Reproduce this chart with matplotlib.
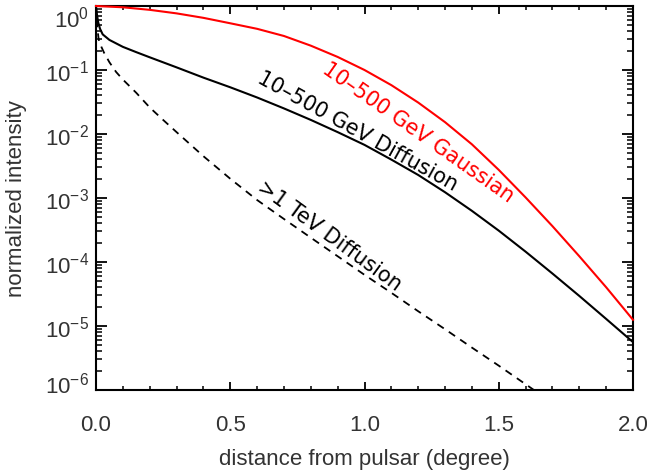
import numpy as np
import matplotlib
matplotlib.use("Agg")
import matplotlib.pyplot as plt
from matplotlib.ticker import LogLocator, MultipleLocator, NullFormatter
from matplotlib.transforms import ScaledTranslation

plt.rcParams["font.family"] = ["Liberation Sans", "DejaVu Sans"]
plt.rcParams["mathtext.fontset"] = "custom"
plt.rcParams["mathtext.rm"] = "Liberation Sans"
plt.rcParams["mathtext.it"] = "Liberation Sans:italic"

# 10-500 GeV, Gaussian template
gauss_x = [0.0, 0.1, 0.2, 0.3, 0.4, 0.5, 0.6, 0.7, 0.8, 0.9, 1.0,
           1.1, 1.2, 1.3, 1.4, 1.5, 1.6, 1.7, 1.8, 1.9, 2.0]
gauss_y = [1.0, 0.955, 0.871, 0.767, 0.653, 0.537, 0.44, 0.34, 0.24, 0.16, 0.100,
           0.058, 0.031, 0.0153, 6.9e-3, 2.75e-3, 1.02e-3, 3.63e-4, 1.23e-4, 4.03e-5, 1.25e-5]

# 10-500 GeV, diffusion template
diff_x = [0.0, 0.003, 0.008, 0.015, 0.025, 0.05, 0.1, 0.15, 0.2, 0.3, 0.4,
          0.5, 0.6, 0.7, 0.8, 0.9, 1.0, 1.1, 1.2, 1.3, 1.4,
          1.5, 1.6, 1.7, 1.8, 1.9, 2.0]
diff_y = [1.0, 0.76, 0.56, 0.44, 0.36, 0.295, 0.23, 0.19, 0.158, 0.110, 0.076,
          0.0537, 0.0372, 0.0251, 0.0166, 0.0107, 6.76e-3, 3.98e-3, 2.29e-3, 1.23e-3, 6.3e-4,
          3.09e-4, 1.45e-4, 6.6e-5, 2.95e-5, 1.29e-5, 5.6e-6]

# >1 TeV, diffusion template
tev_x = [0.0, 0.005, 0.01, 0.02, 0.03, 0.05, 0.075, 0.1, 0.15, 0.2, 0.25, 0.3,
         0.4, 0.5, 0.6, 0.7, 0.8, 0.9, 1.0, 1.1, 1.2, 1.3, 1.4, 1.5, 1.6, 1.7]
tev_y = [1.0, 0.45, 0.30, 0.23, 0.186, 0.132, 0.093, 0.071, 0.044, 0.026, 0.0166, 0.0107,
         4.5e-3, 2.0e-3, 9.3e-4, 4.7e-4, 2.4e-4, 1.23e-4, 6.3e-5, 3.3e-5, 1.7e-5,
         8.9e-6, 4.6e-6, 2.4e-6, 1.23e-6, 6.3e-7]

fig = plt.figure(figsize=(6.47, 4.77), dpi=100)
ax = fig.add_axes([96 / 647, 1 - 391 / 477, 537 / 647, 384 / 477])

ax.plot(gauss_x, gauss_y, color="#ff0000", lw=1.5, zorder=3, clip_on=False)
ax.plot(diff_x, diff_y, color="black", lw=1.5)
ax.plot(tev_x, tev_y, color="black", lw=1.3, dashes=(4.2, 3.4))

ax.set_yscale("log")
ax.set_xlim(0, 2.0)
ax.set_ylim(1e-6, 1.0)

ax.set_xticks([0.0, 0.5, 1.0, 1.5, 2.0])
ax.set_xticklabels(["0.0", "0.5", "1.0", "1.5", "2.0"])
ax.xaxis.set_minor_locator(MultipleLocator(0.1))
ax.set_yticks([1e-6, 1e-5, 1e-4, 1e-3, 1e-2, 1e-1, 1e0])
ax.set_yticklabels(["$10^{-6}$", "$10^{-5}$", "$10^{-4}$", "$10^{-3}$",
                    "$10^{-2}$", "$10^{-1}$", "$10^{0}$"])
ax.yaxis.set_minor_locator(LogLocator(base=10, subs=np.arange(2, 10), numticks=20))
ax.yaxis.set_minor_formatter(NullFormatter())

for s in ax.spines.values():
    s.set_linewidth(1.5)
ax.tick_params(axis="x", which="major", direction="in", top=True, length=5.5, width=1.3,
               pad=17, labelsize=16, labelcolor="#333333")
ax.tick_params(axis="x", which="minor", direction="in", top=True, length=2.8, width=1.1)
ax.tick_params(axis="y", which="major", direction="in", right=True, length=8, width=1.3,
               pad=5, labelsize=16, labelcolor="#333333")
ax.tick_params(axis="y", which="minor", direction="in", right=True, length=4, width=1.1)

# nudge the end labels inward like the original
ylabs = ax.get_yticklabels()
ylabs[0].set_transform(ylabs[0].get_transform() + ScaledTranslation(0, 8 / 100, fig.dpi_scale_trans))
ylabs[-1].set_transform(ylabs[-1].get_transform() + ScaledTranslation(0, -10 / 100, fig.dpi_scale_trans))

ax.set_xlabel("distance from pulsar (degree)", fontsize=16, color="#333333")
ax.set_ylabel("normalized intensity", fontsize=16, color="#333333")
ax.xaxis.set_label_coords(0.5, -0.15)
ax.yaxis.set_label_coords(-0.128, 0.5)

ax.text(1.199, 10 ** -1.97, "10\u2013500 GeV Gaussian", color="#ff0000", fontsize=15,
        family="DejaVu Sans", rotation=-35, ha="center", va="center", rotation_mode="anchor")
ax.text(0.974, 10 ** -1.945, "10\u2013500 GeV Diffusion", color="black", fontsize=15,
        family="DejaVu Sans", rotation=-29, ha="center", va="center", rotation_mode="anchor")
ax.text(0.87, 10 ** -3.58, ">1 TeV Diffusion", color="black", fontsize=15,
        family="DejaVu Sans", rotation=-36, ha="center", va="center", rotation_mode="anchor")

fig.savefig("out.png", dpi=100)
